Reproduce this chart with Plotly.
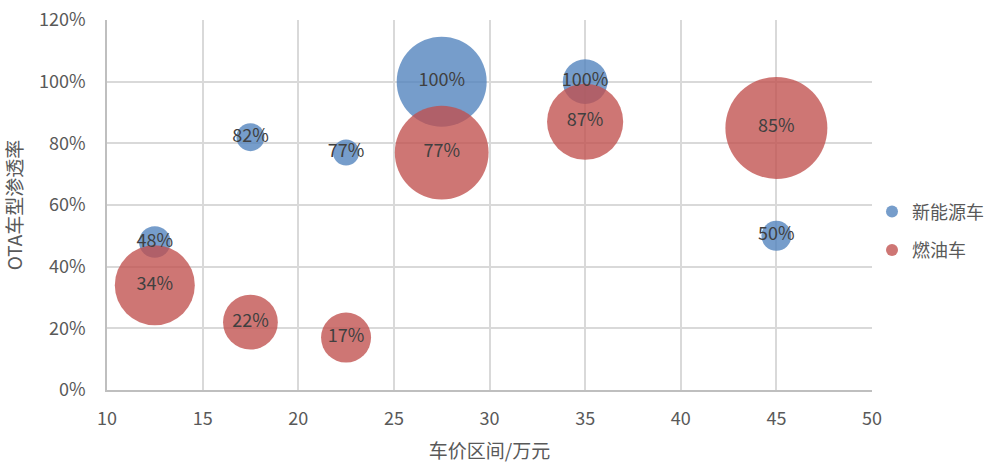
import plotly.graph_objects as go

# Data
price_mid = [12.5, 17.5, 22.5, 27.5, 35, 45]
nev_rate = [0.48, 0.82, 0.77, 1.00, 1.00, 0.50]
nev_size = [10, 7.8, 6.8, 81, 20, 9]
ice_rate = [0.34, 0.22, 0.17, 0.77, 0.87, 0.85]
ice_size = [64, 30, 25, 88, 58, 104]
series_names = ["新能源车", "燃油车"]

FONT = "Noto Sans CJK SC, Noto Sans, sans-serif"
blue = "rgba(79,129,189,0.78)"
red = "rgba(192,80,77,0.78)"
SIZEREF = 0.02

fig = go.Figure()
fig.add_trace(go.Scatter(
    x=price_mid, y=nev_rate, mode="markers", name=series_names[0], legendgroup="a",
    marker=dict(size=nev_size, sizemode="area", sizeref=SIZEREF, color=blue,
                opacity=1, line=dict(width=0)),
))
fig.add_trace(go.Scatter(
    x=price_mid, y=ice_rate, mode="markers", name=series_names[1], legendgroup="b",
    marker=dict(size=ice_size, sizemode="area", sizeref=SIZEREF, color=red,
                opacity=1, line=dict(width=0)),
))
for rates in (nev_rate, ice_rate):
    fig.add_trace(go.Scatter(
        x=price_mid, y=rates, mode="text", showlegend=False,
        text=[f"{round(r*100)}%" for r in rates], textposition="middle center",
        textfont=dict(size=18, color="#404040", family=FONT),
        hoverinfo="skip",
    ))

fig.update_layout(
    width=994, height=463,
    margin=dict(l=107, r=122, t=20, b=73, autoexpand=False),
    paper_bgcolor="white", plot_bgcolor="white",
    font=dict(family=FONT, color="#595959", size=17),
    legend=dict(x=1.0, y=0.43, xanchor="left", yanchor="middle",
                font=dict(size=18, color="#595959"), itemsizing="constant",
                tracegroupgap=12),
    showlegend=True,
)
fig.update_xaxes(
    range=[10, 50], dtick=5, tick0=10, showgrid=True, gridcolor="#D9D9D9", gridwidth=1.5,
    showline=True, linecolor="#BFBFBF", linewidth=1.5, zeroline=False,
    ticks="", ticklabelstandoff=12,
    tickfont=dict(size=18, color="#595959"),
    title=dict(text="车价区间/万元", font=dict(size=19, color="#595959"), standoff=15),
)
fig.update_yaxes(
    range=[0, 1.2], dtick=0.2, tickformat=".0%", showgrid=True, gridcolor="#D9D9D9", gridwidth=1.5,
    showline=True, linecolor="#BFBFBF", linewidth=1.5, zeroline=False,
    ticks="", ticklabelstandoff=16,
    tickfont=dict(size=18, color="#595959"),
    title=dict(text="OTA车型渗透率", font=dict(size=19, color="#595959"), standoff=12),
)

fig.write_html("out.html")
